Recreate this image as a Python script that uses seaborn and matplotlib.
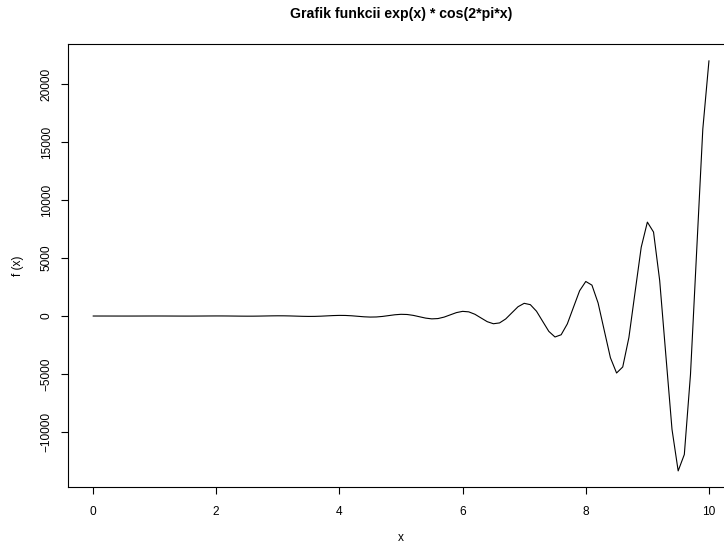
import numpy as np
import pandas as pd
import matplotlib
matplotlib.use("Agg")
import matplotlib.pyplot as plt
import seaborn as sns

# f(x) = exp(x) * cos(2*pi*x), tabulated at x = 0, 0.1, ..., 10
x_vals = [round(0.1 * i, 1) for i in range(101)]
f_vals = [
    1.0, 0.894, 0.377, -0.417, -1.207, -1.649, -1.474, -0.622, 0.688, 1.990,
    2.718, 2.430, 1.026, -1.134, -3.281, -4.482, -4.007, -1.692, 1.869, 5.409,
    7.389, 6.607, 2.789, -3.082, -8.918, -12.18, -10.89, -4.598, 5.082, 14.70,
    20.09, 17.96, 7.581, -8.378, -24.24, -33.12, -29.61, -12.50, 13.81, 39.97,
    54.60, 48.82, 20.61, -22.77, -65.90, -90.02, -80.48, -33.98, 37.55, 108.64,
    148.41, 132.70, 56.02, -61.91, -179.12, -244.69, -218.78, -92.35, 102.07, 295.32,
    403.43, 360.71, 152.27, -168.28, -486.90, -665.14, -594.71, -251.05, 277.45, 802.77,
    1096.63, 980.50, 413.91, -457.44, -1323.54, -1808.04, -1616.58, -682.42, 754.19, 2182.14,
    2980.96, 2665.28, 1125.12, -1243.45, -3597.76, -4914.77, -4394.30, -1855.00, 2050.09, 5931.71,
    8103.08, 7244.98, 3058.38, -3380.03, -9779.72, -13359.7, -11944.97, -5042.41, 5572.72, 16124.0,
    22026.5,
]
x_ticks = [0, 2, 4, 6, 8, 10]
y_ticks = [-10000, -5000, 0, 5000, 10000, 15000, 20000]

df = pd.DataFrame({"x": x_vals, "f": f_vals})

sns.set_style("white")
plt.rcParams["font.family"] = ["Liberation Sans", "DejaVu Sans"]
plt.rcParams["text.color"] = "black"
plt.rcParams["axes.labelcolor"] = "black"

W, H = 724, 544
fig = plt.figure(figsize=(W / 100, H / 100), dpi=100)
left, right, top, bottom = 68.4, 733.6, 44.3, 487.3
ax = fig.add_axes([left / W, 1 - bottom / H, (right - left) / W, (bottom - top) / H])

sns.lineplot(data=df, x="x", y="f", ax=ax, color="black", linewidth=0.8)

# 4% padding around the data range on both axes
xr = max(x_vals) - min(x_vals)
yr = max(f_vals) - min(f_vals)
ax.set_xlim(min(x_vals) - 0.04 * xr, max(x_vals) + 0.04 * xr)
ax.set_ylim(min(f_vals) - 0.04 * yr, max(f_vals) + 0.04 * yr)

ax.set_xticks(x_ticks)
ax.set_xticklabels([str(t) for t in x_ticks])
ax.set_yticks(y_ticks)
ax.set_yticklabels([str(t).replace("-", "\u2212") for t in y_ticks],
                   rotation=90, va="center")

ax.tick_params(axis="both", which="both", direction="out", length=5.2,
               width=0.8, color="black", labelsize=8.6, labelcolor="black",
               bottom=True, left=True)
ax.tick_params(axis="x", pad=8)
ax.tick_params(axis="y", pad=6)

for sp in ax.spines.values():
    sp.set_visible(True)
    sp.set_color("black")
    sp.set_linewidth(0.8)

ax.set_xlabel("x", fontsize=8.6)
ax.set_ylabel("f (x)", fontsize=8.6)
ax.xaxis.set_label_coords(0.5, -(538 - bottom) / (bottom - top), transform=ax.transAxes)
ax.xaxis.label.set_va("center")
ax.yaxis.set_label_coords(-(left - 18) / (right - left), 0.5, transform=ax.transAxes)
ax.yaxis.label.set_va("center")

fig.text((left + right) / 2 / W, 1 - 14 / H, "Grafik funkcii exp(x) * cos(2*pi*x)",
         ha="center", va="center", fontsize=10.2, fontweight="bold", color="black")

fig.savefig("out.png", dpi=100)
